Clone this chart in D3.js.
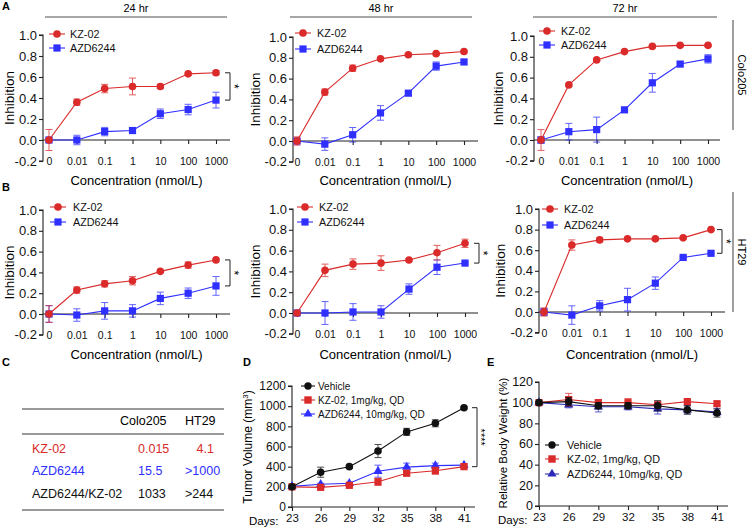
<!DOCTYPE html>
<html><head><meta charset="utf-8">
<script src="https://cdn.jsdelivr.net/npm/d3@7"></script>
<style>body{margin:0;background:#fff}svg{display:block;font-family:"Liberation Sans",Arial,Helvetica,sans-serif}</style>
</head><body><svg id="c" width="749" height="528"></svg>
<script>
// ---------- DATA ----------
const concLabels = ["0","0.01","0.1","1","10","100","1000"];
const inhTicks = [-0.2,0,0.2,0.4,0.6,0.8,1.0];
const seriesNames = ["KZ-02","AZD6244"];
const timeLabels = ["24 hr","48 hr","72 hr"];
const cellLines = ["Colo205","HT29"];

// Colo205
const kzColo24 = [0, 0.36, 0.49, 0.51, 0.51, 0.63, 0.64];
const kzColo24Err = [0.10, 0.03, 0.04, 0.08, 0.02, 0.01, 0.02];
const azdColo24 = [0, 0.00, 0.08, 0.09, 0.25, 0.29, 0.38];
const azdColo24Err = [0.01, 0.045, 0.04, 0.02, 0.045, 0.05, 0.075];
const kzColo48 = [0, 0.47, 0.70, 0.79, 0.83, 0.84, 0.86];
const kzColo48Err = [0.04, 0.03, 0.03, 0.01, 0.01, 0.01, 0.01];
const azdColo48 = [0, -0.03, 0.06, 0.27, 0.46, 0.72, 0.76];
const azdColo48Err = [0.02, 0.06, 0.07, 0.07, 0.02, 0.04, 0.02];
const kzColo72 = [0, 0.53, 0.77, 0.85, 0.90, 0.91, 0.91];
const kzColo72Err = [0.10, 0.01, 0.01, 0.01, 0.01, 0.01, 0.01];
const azdColo72 = [0, 0.08, 0.10, 0.29, 0.55, 0.73, 0.78];
const azdColo72Err = [0.03, 0.08, 0.12, 0.01, 0.09, 0.02, 0.04];
// HT29
const kzHT24 = [0, 0.23, 0.29, 0.32, 0.41, 0.47, 0.52];
const kzHT24Err = [0.08, 0.03, 0.03, 0.04, 0.01, 0.03, 0.01];
const azdHT24 = [0, -0.01, 0.03, 0.03, 0.15, 0.20, 0.27];
const azdHT24Err = [0.08, 0.06, 0.08, 0.06, 0.06, 0.05, 0.09];
const kzHT48 = [0, 0.41, 0.47, 0.48, 0.51, 0.58, 0.67];
const kzHT48Err = [0.02, 0.06, 0.05, 0.07, 0.01, 0.07, 0.04];
const azdHT48 = [0, 0.00, 0.01, 0.01, 0.23, 0.44, 0.48];
const azdHT48Err = [0.01, 0.11, 0.08, 0.06, 0.05, 0.07, 0.01];
const kzHT72 = [0, 0.65, 0.70, 0.71, 0.71, 0.72, 0.80];
const kzHT72Err = [0.04, 0.05, 0.02, 0.01, 0.01, 0.01, 0.01];
const azdHT72 = [0, -0.03, 0.06, 0.12, 0.28, 0.53, 0.57];
const azdHT72Err = [0.03, 0.09, 0.05, 0.11, 0.06, 0.01, 0.01];

// Table C
const tableCols = ["Colo205","HT29"];
const tableRows = ["KZ-02","AZD6244","AZD6244/KZ-02"];
const tableColo = ["0.015","15.5","1033"];
const tableHT = ["4.1",">1000",">244"];

// In vivo
const days = [23,26,29,32,35,38,41];
const groupNames = ["Vehicle","KZ-02, 1mg/kg, QD","AZD6244, 10mg/kg, QD"];
const tumorVehicle = [200, 345, 400, 555, 745, 830, 985];
const tumorVehicleErr = [10, 50, 15, 65, 35, 35, 10];
const tumorKZ = [200, 195, 215, 250, 335, 360, 400];
const tumorKZErr = [10, 20, 15, 35, 25, 35, 25];
const tumorAZD = [205, 225, 235, 355, 395, 410, 415];
const tumorAZDErr = [10, 10, 10, 60, 40, 25, 15];
const tumorTicks = [0,200,400,600,800,1000,1200];
const weightVehicle = [100, 101, 97, 97, 97, 93, 90];
const weightVehicleErr = [1, 4, 3, 3, 5, 4, 4];
const weightKZ = [100, 103, 100, 100, 98, 101, 99];
const weightKZErr = [1, 6, 3, 4, 2, 3, 2];
const weightAZD = [100, 98, 96, 96, 94, 93, 91];
const weightAZDErr = [1, 3, 5, 3, 5, 4, 3];
const weightTicks = [0,20,40,60,80,100,120];

// ---------- DRAWING ----------
const svg = d3.select("#c");
const RED = "#da2a2a", BLUE = "#2f2fff", BLACK = "#111", NAVY = "#2a2ab8";
const AX = "#222";

function marker(g, shape, cx, cy, color, s) {
  if (shape === "circle") {
    g.append("circle").attr("cx", cx).attr("cy", cy).attr("r", s).attr("fill", color);
  } else if (shape === "square") {
    g.append("rect").attr("x", cx - s).attr("y", cy - s).attr("width", 2*s).attr("height", 2*s).attr("fill", color);
  } else {
    const sym = d3.symbol().type(d3.symbolTriangle).size(s*s*2.6);
    g.append("path").attr("d", sym()).attr("transform", `translate(${cx},${cy})`).attr("fill", color);
  }
}

function drawSeries(g, xs, y, vals, errs, color, shape, size) {
  const pts = vals.map((v,i)=>[xs[i], y(v)]);
  g.append("path").attr("d", d3.line()(pts)).attr("fill","none").attr("stroke",color).attr("stroke-width",1.1);
  vals.forEach((v,i)=>{
    const cx = xs[i], t = y(v+errs[i]), b = y(v-errs[i]);
    const eg = g.append("g").attr("stroke", color).attr("stroke-width",1).attr("opacity",0.75);
    eg.append("line").attr("x1",cx).attr("x2",cx).attr("y1",t).attr("y2",b);
    eg.append("line").attr("x1",cx-3.5).attr("x2",cx+3.5).attr("y1",t).attr("y2",t);
    eg.append("line").attr("x1",cx-3.5).attr("x2",cx+3.5).attr("y1",b).attr("y2",b);
  });
  vals.forEach((v,i)=> marker(g, shape, xs[i], y(v), color, size));
}

function legendItem(g, mx, tx, cy, color, shape, label, fs, size, half) {
  g.append("line").attr("x1",mx-half).attr("x2",mx+half).attr("y1",cy).attr("y2",cy).attr("stroke",color).attr("stroke-width",1.1);
  marker(g, shape, mx, cy, color, size);
  g.append("text").attr("x",tx).attr("y",cy).attr("dy","0.35em").attr("font-size",fs).attr("fill","#111").text(label);
}

function bracket(g, x, yTop, yBot, label, fs) {
  g.append("path").attr("d",`M${x-5},${yTop}H${x}V${yBot}H${x-5}`).attr("fill","none").attr("stroke","#222").attr("stroke-width",1);
  const ym = (yTop+yBot)/2;
  g.append("text").attr("transform",`translate(${x-0.5},${ym}) rotate(90)`).attr("text-anchor","middle").attr("font-size",fs).text(label);
}

// y axis: tick lines from d3.axisLeft, labels placed by the same scale
function yAxisLeft(g, y, ax, ticks, fmt, fs, top, bottom) {
  const ya = g.append("g").attr("transform",`translate(${ax},0)`)
    .call(d3.axisLeft(y).tickValues(ticks).tickSize(4).tickFormat(()=>""));
  ya.select(".domain").attr("stroke",AX).attr("stroke-width",1.1).attr("d",`M-4,${y(top)}H0V${y(bottom)}H-4`);
  ya.selectAll(".tick line").attr("stroke",AX).attr("stroke-width",1.1);
  g.append("g").selectAll("text").data(ticks).join("text")
    .attr("x", ax - 6).attr("y", d => y(d)).attr("dy","0.35em")
    .attr("text-anchor","end").attr("font-size",fs).attr("fill","#111")
    .text(fmt);
}

function dosePanel(c) {
  const g = svg.append("g");
  const x = d3.scalePoint().domain(concLabels).range([c.x0, c.x1]);
  const h = c.yZero - c.yOne;
  const y = d3.scaleLinear().domain([-0.2, 1]).range([c.yZero + 0.2*h, c.yOne]);
  yAxisLeft(g, y, c.ax, inhTicks, d=>d.toFixed(1), 13, 1, -0.2);
  // x axis at zero
  const xa = g.append("g").attr("transform",`translate(0,${y(0)})`)
    .call(d3.axisBottom(x).tickSize(4).tickPadding(y(-0.2) - y(0) - 7));
  xa.select(".domain").attr("stroke",AX).attr("stroke-width",1.1).attr("d",`M${c.ax},0H${c.axEnd}`);
  xa.selectAll(".tick line").attr("stroke",AX).attr("stroke-width",1.1);
  xa.selectAll(".tick text").attr("font-size",10.5).attr("font-family",null).attr("fill","#111");
  // titles
  g.append("text").attr("x",(c.ax+c.axEnd)/2).attr("y",c.xTitleY).attr("text-anchor","middle").attr("font-size",13).text("Concentration (nmol/L)");
  g.append("text").attr("transform",`translate(${c.yTitleX},${(y(1)+y(-0.2))/2}) rotate(-90)`).attr("text-anchor","middle").attr("dy","0.35em").attr("font-size",13.5).text("Inhibition");
  const xs = concLabels.map(d=>x(d));
  drawSeries(g, xs, y, c.azd, c.azdErr, BLUE, "square", 3.6);
  drawSeries(g, xs, y, c.kz, c.kzErr, RED, "circle", 3.8);
  legendItem(g, c.lx, c.lt, c.ly[0], RED, "circle", seriesNames[0], 10.8, 3.8, 8);
  legendItem(g, c.lx, c.lt, c.ly[1], BLUE, "square", seriesNames[1], 10.8, 3.6, 8);
  if (c.bx) bracket(g, c.bx, y(c.kz[6]), y(c.azd[6]), "*", 12);
  if (c.header) {
    g.append("line").attr("x1",c.hx0).attr("x2",c.hx1).attr("y1",17).attr("y2",17).attr("stroke","#888").attr("stroke-width",1.6);
    g.append("text").attr("x",(c.hx0+c.hx1)/2).attr("y",12).attr("text-anchor","middle").attr("font-size",11).text(c.header);
  }
}

// Row A (Colo205)
dosePanel({ax:43, axEnd:230, x0:49, x1:216, yZero:140, yOne:35, xTitleY:185, yTitleX:9,
  kz:kzColo24, kzErr:kzColo24Err, azd:azdColo24, azdErr:azdColo24Err,
  lx:57, lt:70, ly:[34,48], bx:230, header:timeLabels[0], hx0:45, hx1:227});
dosePanel({ax:293, axEnd:478, x0:297, x1:464, yZero:141, yOne:37, xTitleY:185, yTitleX:255,
  kz:kzColo48, kzErr:kzColo48Err, azd:azdColo48, azdErr:azdColo48Err,
  lx:303, lt:317, ly:[33,49], header:timeLabels[1], hx0:290, hx1:472});
dosePanel({ax:534, axEnd:720, x0:541, x1:708, yZero:140, yOne:36, xTitleY:185, yTitleX:498,
  kz:kzColo72, kzErr:kzColo72Err, azd:azdColo72, azdErr:azdColo72Err,
  lx:547, lt:561, ly:[31,45], header:timeLabels[2], hx0:533, hx1:717});
// Row B (HT29)
dosePanel({ax:43, axEnd:230, x0:49, x1:216, yZero:314, yOne:210, xTitleY:359, yTitleX:9,
  kz:kzHT24, kzErr:kzHT24Err, azd:azdHT24, azdErr:azdHT24Err,
  lx:58, lt:73, ly:[207,222], bx:230});
dosePanel({ax:293, axEnd:478, x0:297, x1:465, yZero:313, yOne:209, xTitleY:359, yTitleX:255,
  kz:kzHT48, kzErr:kzHT48Err, azd:azdHT48, azdErr:azdHT48Err,
  lx:305, lt:319, ly:[207,222], bx:479});
dosePanel({ax:539, axEnd:725, x0:544, x1:711, yZero:312, yOne:209, xTitleY:359, yTitleX:500,
  kz:kzHT72, kzErr:kzHT72Err, azd:azdHT72, azdErr:azdHT72Err,
  lx:550, lt:564, ly:[209,225], bx:722});

// right-side cell line labels
[[20,130,cellLines[0]],[192,312,cellLines[1]]].forEach(([a,b,t])=>{
  svg.append("line").attr("x1",733).attr("x2",733).attr("y1",a).attr("y2",b).attr("stroke","#888").attr("stroke-width",1.6);
  svg.append("text").attr("transform",`translate(738,${(a+b)/2}) rotate(90)`).attr("text-anchor","middle").attr("font-size",11).text(t);
});

// panel letters
[["A",2,10],["B",2,191],["C",2,366],["D",243,366],["E",487,366]].forEach(([t,x,y])=>{
  svg.append("text").attr("x",x).attr("y",y).attr("font-size",11).attr("font-weight","bold").text(t);
});

// ---------- Table C ----------
(function(){
  const g = svg.append("g").attr("font-size",12.5);
  [409,434,510].forEach(yy=> g.append("line").attr("x1",22).attr("x2",224).attr("y1",yy).attr("y2",yy).attr("stroke","#777").attr("stroke-width",1.5));
  g.append("text").attr("x",120).attr("y",425).text(tableCols[0]);
  g.append("text").attr("x",185).attr("y",425).text(tableCols[1]);
  const colors = [RED, BLUE, "#111"];
  const rowY = [453,475,498];
  tableRows.forEach((r,i)=>{
    g.append("text").attr("x",32).attr("y",rowY[i]).attr("fill",colors[i]).text(r);
    g.append("text").attr("x",138).attr("y",rowY[i]).attr("fill",colors[i]).text(tableColo[i]);
    const t = g.append("text").attr("y",rowY[i]).attr("fill",colors[i]).text(tableHT[i]);
    if (i===0) t.attr("x",214).attr("text-anchor","end"); else t.attr("x",185);
  });
})();

// ---------- In vivo panels ----------
function vivoPanel(c) {
  const g = svg.append("g");
  const x = d3.scaleLinear().domain([23,41]).range([c.x0, c.x1]);
  const y = d3.scaleLinear().domain([0, c.yMax]).range([c.yZero, c.yTop]);
  yAxisLeft(g, y, c.ax, c.ticks, d=>String(d), c.yfs, c.yMax, 0);
  const xa = g.append("g").attr("transform",`translate(0,${y(0)})`)
    .call(d3.axisBottom(x).tickValues(days).tickSize(4).tickPadding(3).tickFormat(d=>String(d)));
  xa.select(".domain").attr("stroke",AX).attr("stroke-width",1.1).attr("d",`M${c.ax},0H${c.axEnd}`);
  xa.selectAll(".tick line").attr("stroke",AX).attr("stroke-width",1.1);
  xa.selectAll(".tick text").attr("font-size",11.5).attr("font-family",null).attr("fill","#111");
  g.append("text").attr("x",c.daysX).attr("y",y(0)+18).attr("font-size",11.5).text("Days:");
  const yt = g.append("text").attr("transform",`translate(${c.yTitleX},${c.yTitleY}) rotate(-90)`).attr("text-anchor","middle").attr("dy","0.35em").attr("font-size",c.ytfs);
  c.title(yt);
  const xs = days.map(d=>x(d));
  drawSeries(g, xs, y, c.s[2], c.e[2], c.c3, "triangle", 3.8);
  drawSeries(g, xs, y, c.s[1], c.e[1], RED, "square", 3.6);
  drawSeries(g, xs, y, c.s[0], c.e[0], BLACK, "circle", 3.8);
  const shapes = ["circle","square","triangle"], cols = [BLACK, RED, c.c3];
  groupNames.forEach((n,i)=> legendItem(g, c.lx, c.lt, c.ly[i], cols[i], shapes[i], n, c.lfs, 3.7, 7));
  if (c.bx) bracket(g, c.bx, y(c.s[0][6]), y(c.s[1][6]), "****", 11);
}

vivoPanel({ax:292, axEnd:475, x0:292, x1:464, yZero:507, yTop:386, yMax:1200, ticks:tumorTicks, yfs:12,
  s:[tumorVehicle,tumorKZ,tumorAZD], e:[tumorVehicleErr,tumorKZErr,tumorAZDErr], c3:BLUE,
  daysX:249, yTitleX:248, yTitleY:447, ytfs:12,
  title: t=>{ t.append("tspan").text("Tumor Volume (mm"); t.append("tspan").attr("font-size",8).attr("dy","-0.5em").text("3"); t.append("tspan").attr("dy","0.3em").text(")"); },
  lx:308, lt:318, ly:[386,400,414], lfs:10, bx:477});
vivoPanel({ax:539, axEnd:728, x0:539, x1:717, yZero:506, yTop:382, yMax:120, ticks:weightTicks, yfs:12.5,
  s:[weightVehicle,weightKZ,weightAZD], e:[weightVehicleErr,weightKZErr,weightAZDErr], c3:NAVY,
  daysX:498, yTitleX:503, yTitleY:443, ytfs:11.5,
  title: t=> t.text("Relative Body Weight (%)"),
  lx:552, lt:567, ly:[445,459,474], lfs:10.8});
</script></body></html>
